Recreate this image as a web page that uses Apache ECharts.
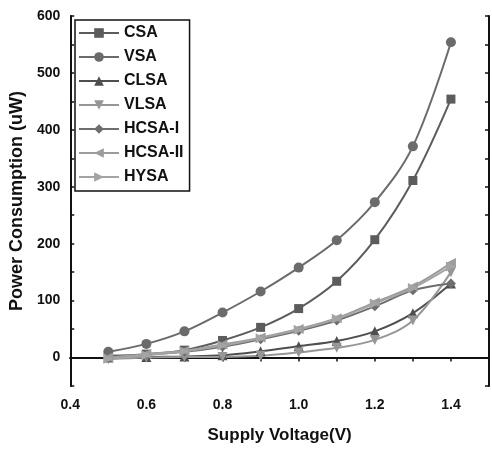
<!DOCTYPE html>
<html>
<head>
<meta charset="utf-8">
<script src="https://cdn.jsdelivr.net/npm/echarts@6/dist/echarts.min.js"></script>
<style>html,body{margin:0;padding:0;background:#fff}#c{width:492px;height:449px}</style>
</head>
<body>
<div id="c"></div>
<script>
var voltages = [0.5, 0.6, 0.7, 0.8, 0.9, 1.0, 1.1, 1.2, 1.3, 1.4];
var seriesNames = ['CSA', 'VSA', 'CLSA', 'VLSA', 'HCSA-I', 'HCSA-II', 'HYSA'];
var csa    = [3, 6, 13, 30, 53, 86, 134, 207, 311, 454];
var vsa    = [10, 24, 46, 79, 116, 158, 206, 273, 371, 554];
var clsa   = [0, 1, 2, 4, 11, 20, 29, 46, 78, 130];
var vlsa   = [-3, 0, 1, 1, 3, 9, 17, 31, 65, 150];
var hcsa1  = [0, 5, 10, 19, 32, 47, 65, 90, 118, 130];
var hcsa2  = [0, 6, 12, 23, 35, 50, 69, 97, 125, 166];
var hysa   = [-2, 4, 11, 21, 34, 49, 68, 95, 122, 160];
var xTickLabels = ['0.4', '0.6', '0.8', '1.0', '1.2', '1.4'];
var yTickLabels = ['0', '100', '200', '300', '400', '500', '600'];

var allData = [csa, vsa, clsa, vlsa, hcsa1, hcsa2, hysa];
var colors = ['#5c5c5c', '#6b6b6b', '#4f4f4f', '#969696', '#6e6e6e', '#9c9c9c', '#a4a4a4'];
var symbols = [
  'rect', 'circle', 'triangle',
  'path://M0,0 L10,0 L5,10 Z',
  'diamond',
  'path://M0,5 L10,0 L10,10 Z',
  'path://M0,0 L10,5 L0,10 Z'
];
var symSizes = [9, 10, 10, 10, 10, 10, 10];

var FONT = '"Liberation Sans", Arial, sans-serif';

function pairs(arr) { return voltages.map(function (v, i) { return [v, arr[i]]; }); }

var series = seriesNames.map(function (n, i) {
  return {
    name: n, type: 'line', smooth: 0.35,
    data: pairs(allData[i]),
    symbol: symbols[i], symbolSize: symSizes[i],
    lineStyle: { color: colors[i], width: 2 },
    itemStyle: { color: colors[i] },
    xAxisIndex: 0, yAxisIndex: 0, z: 3
  };
});

var chart = echarts.init(document.getElementById('c'), null, { renderer: 'canvas' });
chart.setOption({
  animation: false,
  backgroundColor: '#fff',
  grid: { left: 68, right: 2, top: 16, bottom: 63, containLabel: false },
  legend: {
    orient: 'vertical', left: 75, top: 20,
    width: 117,
    borderColor: '#111', borderWidth: 1.5,
    padding: [5, 6, 6, 3],
    itemWidth: 40, itemHeight: 12, itemGap: 8,
    textStyle: { fontFamily: FONT, fontWeight: 'bold', fontSize: 16, color: '#111' },
    data: seriesNames
  },
  xAxis: [{
    type: 'value', min: 0.4, max: 1.5, interval: 0.1,
    name: 'Supply Voltage(V)', nameLocation: 'middle', nameGap: 41,
    nameTextStyle: { fontFamily: FONT, fontWeight: 'bold', fontSize: 17, color: '#111' },
    axisLine: { lineStyle: { color: '#111', width: 2 } },
    axisTick: { inside: false, length: 4, lineStyle: { color: '#111', width: 1.5 } },
    splitLine: { show: false },
    axisLabel: {
      margin: 12, fontFamily: FONT, fontWeight: 'bold', fontSize: 14, color: '#111',
      formatter: function (v) {
        var s = (Math.round(v * 10) / 10).toFixed(1);
        return xTickLabels.indexOf(s) >= 0 ? s : '';
      }
    }
  }, {
    type: 'value', position: 'top', min: 0.4, max: 1.5, interval: 0.1,
    axisLine: { lineStyle: { color: '#111', width: 2 } },
    axisTick: { inside: true, length: 4, lineStyle: { color: '#111', width: 1.5 } },
    axisLabel: { show: false }, splitLine: { show: false }
  }],
  yAxis: [{
    type: 'value', min: -50, max: 600, interval: 50,
    name: 'Power Consumption (uW)', nameLocation: 'middle', nameGap: 29,
    nameTextStyle: { fontFamily: FONT, fontWeight: 'bold', fontSize: 18, color: '#111' },
    axisLine: { show: true, lineStyle: { color: '#111', width: 2 } },
    axisTick: { show: true, inside: true, length: 4, lineStyle: { color: '#111', width: 1.5 } },
    splitLine: { show: false },
    axisLabel: {
      margin: 10, fontFamily: FONT, fontWeight: 'bold', fontSize: 14, color: '#111',
      formatter: function (v) {
        var s = String(Math.round(v));
        return yTickLabels.indexOf(s) >= 0 ? s : '';
      }
    }
  }, {
    type: 'value', position: 'right', min: -50, max: 600, interval: 50,
    axisLine: { show: true, lineStyle: { color: '#111', width: 2 } },
    axisTick: { show: true, inside: true, length: 4, lineStyle: { color: '#111', width: 1.5 } },
    axisLabel: { show: false }, splitLine: { show: false }
  }],
  series: series
});
</script>
</body>
</html>
